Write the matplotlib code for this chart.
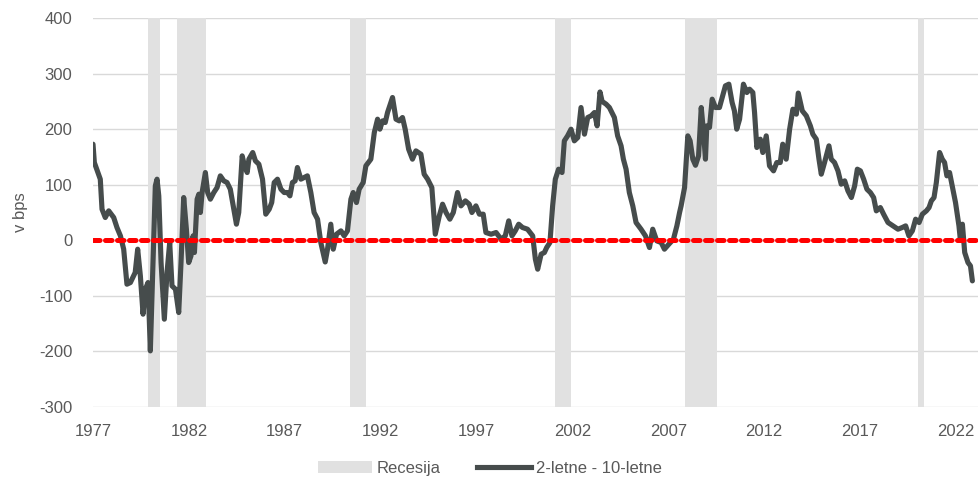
import matplotlib
matplotlib.use("Agg")
import matplotlib.pyplot as plt
from matplotlib.patches import Patch
from matplotlib.lines import Line2D

plt.rcParams['font.family'] = ['Liberation Sans', 'DejaVu Sans']
plt.rcParams['axes.unicode_minus'] = False

# Spread 2-year minus 10-year (bps), decimal-year dates
dates = [1977.0, 1977.07, 1977.38, 1977.47, 1977.64, 1977.82, 1978.08, 1978.25, 1978.43, 1978.6,
         1978.77, 1978.95, 1979.2, 1979.33, 1979.47, 1979.61, 1979.73, 1979.87, 1979.99, 1980.13,
         1980.25, 1980.34, 1980.43, 1980.55, 1980.72, 1980.86, 1981.0, 1981.12, 1981.3, 1981.47,
         1981.59, 1981.73, 1981.87, 1981.99, 1982.11, 1982.22, 1982.29, 1982.43, 1982.52, 1982.6,
         1982.69, 1982.86, 1982.98, 1983.12, 1983.3, 1983.47, 1983.64, 1983.82, 1983.99, 1984.16,
         1984.34, 1984.48, 1984.6, 1984.78, 1984.9, 1985.04, 1985.13, 1985.33, 1985.47, 1985.65,
         1985.84, 1986.01, 1986.19, 1986.32, 1986.45, 1986.62, 1986.8, 1986.97, 1987.14, 1987.27,
         1987.4, 1987.54, 1987.66, 1987.84, 1988.01, 1988.18, 1988.36, 1988.53, 1988.71, 1988.88,
         1989.11, 1989.23, 1989.4, 1989.53, 1989.7, 1989.93, 1990.1, 1990.27, 1990.45, 1990.57,
         1990.74, 1990.88, 1991.09, 1991.23, 1991.49, 1991.67, 1991.84, 1991.96, 1992.1, 1992.24,
         1992.36, 1992.62, 1992.8, 1992.97, 1993.14, 1993.28, 1993.46, 1993.66, 1993.84, 1994.1,
         1994.27, 1994.45, 1994.67, 1994.85, 1995.06, 1995.23, 1995.41, 1995.61, 1995.79, 1996.01,
         1996.19, 1996.42, 1996.62, 1996.76, 1996.97, 1997.15, 1997.35, 1997.49, 1997.76, 1998.02,
         1998.28, 1998.5, 1998.68, 1998.85, 1999.02, 1999.2, 1999.4, 1999.66, 1999.93, 2000.07,
         2000.19, 2000.37, 2000.54, 2000.66, 2000.83, 2000.97, 2001.11, 2001.28, 2001.46, 2001.58,
         2001.75, 2001.93, 2002.1, 2002.28, 2002.45, 2002.63, 2002.8, 2002.98, 2003.15, 2003.29,
         2003.44, 2003.55, 2003.76, 2003.93, 2004.19, 2004.36, 2004.54, 2004.66, 2004.8, 2004.97,
         2005.15, 2005.32, 2005.58, 2005.81, 2006.02, 2006.19, 2006.4, 2006.63, 2006.8, 2007.03,
         2007.27, 2007.45, 2007.59, 2007.67, 2007.85, 2007.93, 2008.02, 2008.14, 2008.28, 2008.42,
         2008.58, 2008.72, 2008.84, 2008.94, 2009.01, 2009.15, 2009.29, 2009.46, 2009.67, 2009.84,
         2009.98, 2010.16, 2010.33, 2010.45, 2010.57, 2010.72, 2010.92, 2011.1, 2011.24, 2011.41,
         2011.5, 2011.62, 2011.8, 2011.93, 2012.11, 2012.28, 2012.49, 2012.66, 2012.84, 2012.97,
         2013.15, 2013.33, 2013.5, 2013.68, 2013.78, 2013.99, 2014.2, 2014.41, 2014.54, 2014.72,
         2014.86, 2014.98, 2015.15, 2015.38, 2015.5, 2015.67, 2015.85, 2016.02, 2016.2, 2016.37,
         2016.55, 2016.72, 2016.86, 2017.02, 2017.19, 2017.36, 2017.54, 2017.71, 2017.85, 2018.06,
         2018.23, 2018.46, 2018.72, 2018.98, 2019.2, 2019.38, 2019.55, 2019.73, 2019.9, 2020.08,
         2020.25, 2020.46, 2020.6, 2020.72, 2020.86, 2020.98, 2021.15, 2021.29, 2021.41, 2021.53,
         2021.67, 2021.81, 2021.98, 2022.16, 2022.23, 2022.34, 2022.46, 2022.63, 2022.76, 2022.86]
spread = [173, 140, 110, 56, 41, 53, 41, 23, 8, -16,
          -79, -76, -58, -16, -64, -133, -88, -76, -199, -40,
          98, 110, 80, -40, -142, -58, -4, -82, -88, -130,
          -40, 77, 20, -40, -28, 8, -22, 74, 83, 50,
          86, 122, 86, 74, 86, 95, 116, 107, 104, 92,
          56, 29, 50, 152, 134, 122, 146, 158, 143, 137,
          110, 47, 56, 68, 104, 110, 92, 86, 86, 80,
          104, 107, 131, 110, 113, 116, 86, 50, 38, -4,
          -39, -16, 29, -16, 11, 17, 8, 17, 74, 86,
          68, 92, 104, 134, 146, 194, 218, 200, 215, 212,
          230, 257, 218, 215, 221, 200, 164, 146, 161, 155,
          119, 110, 95, 11, 44, 65, 50, 38, 50, 86,
          62, 71, 65, 50, 62, 47, 47, 14, 11, 14,
          2, 8, 35, 8, 17, 29, 23, 20, 8, -34,
          -52, -25, -22, -13, -4, 62, 110, 128, 122, 179,
          188, 200, 179, 185, 239, 191, 221, 224, 230, 206,
          267, 250, 245, 239, 221, 188, 170, 146, 128, 86,
          62, 32, 20, 8, -13, 20, -1, -4, -16, -7,
          2, 26, 50, 62, 95, 140, 188, 179, 146, 135,
          152, 239, 194, 146, 206, 203, 254, 239, 239, 260,
          278, 281, 248, 233, 200, 218, 281, 266, 272, 266,
          230, 167, 182, 158, 188, 134, 125, 140, 140, 173,
          146, 200, 236, 227, 265, 233, 224, 206, 191, 182,
          146, 119, 140, 170, 146, 140, 125, 101, 107, 89,
          77, 98, 128, 125, 110, 92, 86, 77, 53, 59,
          47, 32, 26, 20, 23, 26, 8, 17, 38, 32,
          47, 53, 59, 71, 77, 104, 158, 146, 140, 116,
          122, 98, 68, 26, 2, 29, -22, -40, -46, -73]

# Recession periods (start, end) in decimal years
rec_start = [1979.85, 1981.4, 1990.4, 2001.1, 2007.85, 2020.0]
rec_end = [1980.52, 1982.88, 1991.22, 2001.92, 2009.52, 2020.36]

xtick_years = [1977, 1982, 1987, 1992, 1997, 2002, 2007, 2012, 2017, 2022]
yticks = [-300, -200, -100, 0, 100, 200, 300, 400]

fig = plt.figure(figsize=(9.8, 4.88), dpi=100)
ax = fig.add_axes([0.0949, 0.166, 0.903, 0.797])

for s, e in zip(rec_start, rec_end):
    ax.axvspan(s, e, color='#e1e1e1', lw=0, zorder=1)

for y in yticks:
    ax.axhline(y, color='#d9d9d9', lw=1.0, zorder=0.5)

ax.axhline(0, color='#ff0000', lw=3.6, linestyle=(0, (1.3, 1.1)),
           dash_capstyle='round', zorder=4)
ax.plot(dates, spread, color='#464c4c', lw=3.7, solid_joinstyle='round',
        solid_capstyle='round', zorder=3)

ax.set_xlim(1977.0, 2023.15)
ax.set_ylim(-300, 400)
ax.set_xticks(xtick_years)
ax.set_xticklabels([str(y) for y in xtick_years])
ax.set_yticks(yticks)
ax.tick_params(axis='both', length=0, labelsize=12, colors='#595959')
ax.tick_params(axis='y', pad=15)
ax.tick_params(axis='x', pad=12)
for sp in ax.spines.values():
    sp.set_visible(False)
ax.set_ylabel('v bps', fontsize=12, color='#595959', labelpad=8)

handles = [Patch(facecolor='#e1e1e1', edgecolor='none'),
           Line2D([0], [0], color='#464c4c', lw=3.7)]
fig.legend(handles, ['Recesija', '2-letne - 10-letne'], loc='center',
           bbox_to_anchor=(0.50, 0.04), ncol=2, frameon=False, fontsize=12,
           labelcolor='#595959', handlelength=3.2, handletextpad=0.3, columnspacing=2.2)

fig.savefig('out.png', dpi=100)
